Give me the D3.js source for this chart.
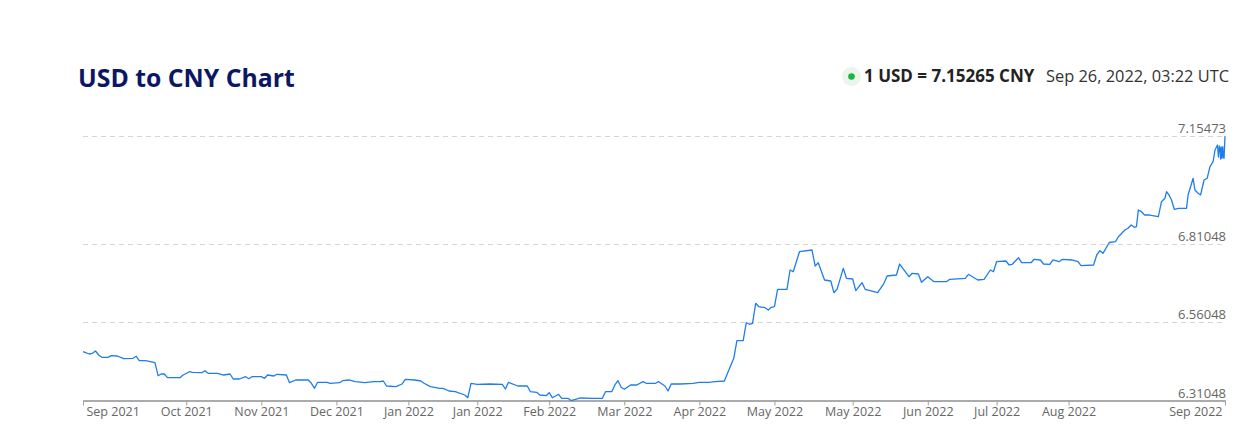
<!DOCTYPE html>
<html><head><meta charset="utf-8">
<script src="https://cdn.jsdelivr.net/npm/d3@7"></script>
<style>
html,body{margin:0;padding:0;background:#fff;}
svg{display:block;font-family:"Open Sans","Noto Sans",sans-serif;}
</style></head><body>
<svg id="chart" width="1253" height="431"></svg>
<script>
// ---- data ----
const startDay = "2021-09-26";
const spanDays = 365;
const dayOffsets = [0,2,3,4,5,6,8,9,11,13,16,17,18,20,23,24,25,26,27,31,32,34,35,38,39,40,43,45,47,48,50,52,53,54,57,58,59,61,62,65,66,68,72,73,74,75,78,79,82,83,85,87,90,93,95,96,97,100,102,103,106,108,109,111,114,115,117,119,122,123,124,126,130,134,135,136,139,142,143,145,146,148,149,150,152,153,155,156,159,163,166,167,169,170,171,172,173,175,177,179,180,183,184,186,187,188,191,195,197,200,202,205,206,208,209,211,212,213,214,215,216,218,219,220,221,222,225,226,227,229,233,234,235,237,239,240,241,243,244,246,247,249,250,254,256,257,260,261,264,265,267,268,270,272,276,277,282,283,286,288,290,291,292,295,296,297,299,300,303,304,306,307,309,310,312,313,316,318,319,323,324,325,326,328,330,331,333,334,335,336,336.7,337.3,338.3,339.3,340.9,343.7,344.7,345.8,346.3,347.1,347.9,348.8,350.1,352.7,353.2,354.0,354.8,355.4,356.4,357.2,358.3,359.3,360.2,361.2,361.8,362.6,362.9,363.2,363.4,363.6,363.8,364.0,364.3,364.45,364.7,365];
const rates = [6.4660,6.4586,6.4609,6.4682,6.4554,6.4481,6.4481,6.4532,6.4523,6.4437,6.4449,6.4513,6.4373,6.4373,6.4309,6.3895,6.3949,6.3949,6.3831,6.3831,6.3917,6.4022,6.4003,6.3991,6.4054,6.3972,6.3972,6.3917,6.3949,6.3790,6.3790,6.3863,6.3799,6.3863,6.3863,6.3812,6.3917,6.3885,6.3940,6.3917,6.3672,6.3758,6.3758,6.3653,6.3494,6.3685,6.3685,6.3653,6.3672,6.3736,6.3758,6.3704,6.3672,6.3704,6.3704,6.3726,6.3567,6.3545,6.3631,6.3780,6.3758,6.3726,6.3653,6.3545,6.3494,6.3494,6.3408,6.3385,6.3280,6.3194,6.3653,6.3621,6.3631,6.3621,6.3471,6.3685,6.3567,6.3567,6.3385,6.3366,6.3280,6.3258,6.3353,6.3194,6.3303,6.3175,6.3175,6.3104,6.3185,6.3175,6.3175,6.3385,6.3385,6.3599,6.3736,6.3526,6.3462,6.3599,6.3599,6.3704,6.3653,6.3653,6.3704,6.3567,6.3408,6.3631,6.3631,6.3653,6.3685,6.3685,6.3704,6.3726,6.3972,6.4449,6.5010,6.5010,6.5583,6.5533,6.5564,6.6201,6.6093,6.6061,6.5988,6.6074,6.6093,6.6647,6.6647,6.7262,6.7208,6.7845,6.7899,6.7390,6.7495,6.6944,6.6912,6.6539,6.6647,6.7316,6.6998,6.6976,6.6603,6.6858,6.6647,6.6539,6.6839,6.7071,6.7103,6.7453,6.7049,6.7157,6.7135,6.6871,6.7049,6.6890,6.6890,6.6966,6.6998,6.7125,6.6944,6.6966,6.7262,6.7208,6.7527,6.7549,6.7422,6.7444,6.7654,6.7495,6.7495,6.7603,6.7581,6.7453,6.7444,6.7581,6.7527,6.7603,6.7581,6.7527,6.7399,6.7422,6.7740,6.7877,6.7794,6.8138,6.8164,6.8329,6.8537,6.8591,6.8696,6.8623,6.8642,6.9174,6.9120,6.9014,6.9014,6.8960,6.9438,6.9546,6.9757,6.9652,6.9492,6.9196,6.9228,6.9228,6.9652,6.9916,7.0184,6.9811,6.9706,6.9652,7.0129,7.0184,7.0553,7.0712,7.1085,7.1244,7.0862,7.1213,7.1139,7.0798,7.1181,7.0821,7.1190,7.0862,7.0821,7.1527];
const yTicks = [6.31048, 6.56048, 6.81048, 7.15473];
const xTickDates = ["2021-09-26","2021-10-29","2021-11-22","2021-12-16","2022-01-08","2022-01-30","2022-02-22","2022-03-18","2022-04-11","2022-05-05","2022-05-30","2022-06-23","2022-07-15","2022-08-07","2022-09-26"];
const titleText = "USD to CNY Chart";
const rateText = "1 USD = 7.15265 CNY";
const timeText = "Sep 26, 2022, 03:22 UTC";

// ---- chart ----
const parse = d3.utcParse("%Y-%m-%d");
const fmt = d3.utcFormat("%b %Y");
const start = parse(startDay);
const toDate = d => new Date(start.getTime() + d * 864e5);
const data = dayOffsets.map((d, i) => ({date: toDate(d), v: rates[i]}));

const svg = d3.select("#chart");
const left = 83, right = 1225;
const x = d3.scaleUtc().domain([start, toDate(spanDays)]).range([left, right]);
const y = d3.scaleLinear().domain([yTicks[0], yTicks[yTicks.length - 1]]).range([400.5, 135.5]);

// title
svg.append("text").attr("x", 78).attr("y", 87)
  .attr("font-size", 24.8).attr("font-weight", 700).attr("fill", "#0c1764")
  .text(titleText);

// header right
svg.append("circle").attr("cx", 851.5).attr("cy", 76.5).attr("r", 9.5).attr("fill", "#eaf6ec");
svg.append("circle").attr("cx", 851.5).attr("cy", 76.5).attr("r", 3.3).attr("fill", "#1fb141");
svg.append("text").attr("x", 864).attr("y", 82)
  .attr("font-size", 17).attr("font-weight", 700).attr("fill", "#222")
  .text(rateText);
svg.append("text").attr("x", 1229).attr("y", 82).attr("text-anchor", "end")
  .attr("font-size", 16.4).attr("fill", "#333")
  .text(timeText);

// gridlines
svg.append("g").selectAll("line").data(yTicks.slice(1)).join("line")
  .attr("x1", left).attr("x2", right + 1)
  .attr("y1", d => Math.round(y(d)) + 0.5).attr("y2", d => Math.round(y(d)) + 0.5)
  .attr("stroke", "#d6d6d6").attr("stroke-dasharray", "5,4");

// y labels
svg.append("g").selectAll("text").data(yTicks).join("text")
  .attr("x", right + 1).attr("y", d => y(d) - 3)
  .attr("text-anchor", "end").attr("font-size", 13).attr("fill", "#666")
  .text(d => d.toFixed(5));

// x axis
const ticks = xTickDates.map(parse);
const gx = svg.append("g").attr("transform", "translate(0,400.5)")
  .call(d3.axisBottom(x).tickValues(ticks).tickFormat(fmt).tickSize(5).tickSizeOuter(0));
gx.select(".domain").attr("stroke", "#ababab").attr("stroke-width", 2);
gx.selectAll(".tick line").attr("stroke", "#a0a0a0");
gx.selectAll(".tick text").attr("fill", "#666").attr("font-size", 12.5)
  .attr("font-family", '"Open Sans","Noto Sans",sans-serif').attr("y", 7).attr("dy", "0.71em");
const tt = gx.selectAll(".tick text").nodes();
d3.select(tt[0]).attr("text-anchor", "start").attr("x", 3);
d3.select(tt[tt.length - 1]).attr("text-anchor", "end").attr("x", -3);

// line
svg.append("path").datum(data)
  .attr("fill", "none").attr("stroke", "#1f7eec").attr("stroke-width", 1.3)
  .attr("stroke-linejoin", "round")
  .attr("d", d3.line().x(d => x(d.date)).y(d => y(d.v)));
</script>
</body></html>
